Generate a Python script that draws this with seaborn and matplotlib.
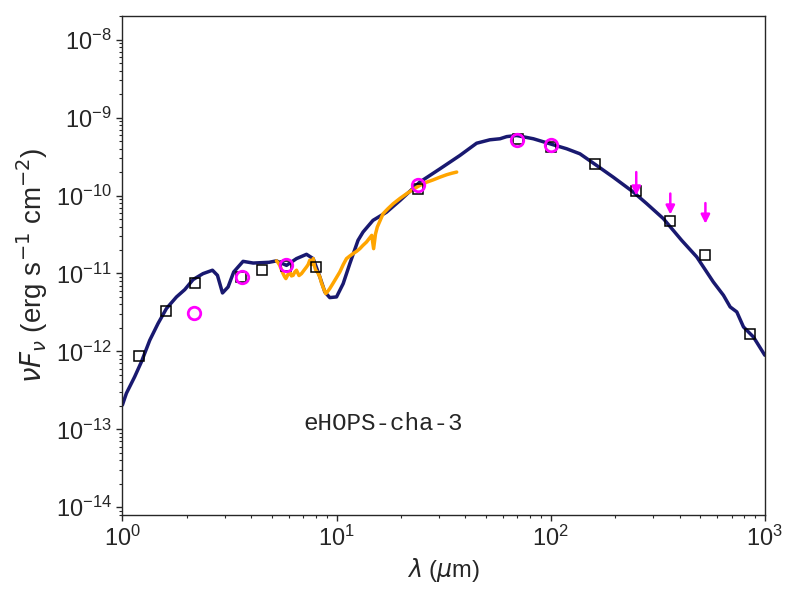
import numpy as np
import pandas as pd
import matplotlib
matplotlib.use("Agg")
import matplotlib.pyplot as plt
import seaborn as sns

# ---- datos ----
# modelo (curva azul)
lam_model = [1.0, 1.044, 1.14, 1.227, 1.342, 1.467, 1.606, 1.788, 1.955, 2.138,
             2.38, 2.634, 2.779, 2.934, 3.115, 3.31, 3.66, 4.08, 4.84, 5.24,
             5.84, 6.50, 7.24, 7.78, 8.36, 8.82, 9.30, 10.0, 10.74, 11.54,
             12.6, 13.3, 14.8, 17.1, 19.8, 24.5, 30.4, 37.7, 45.1, 52.0,
             58.0, 62.3, 69.4, 83.0, 99.3, 118.8, 137, 164, 196, 243,
             281, 336, 409, 481, 575, 641, 689, 740, 795, 885, 1000]
f_model = [2.05e-13, 2.9e-13, 4.7e-13, 7.35e-13, 1.39e-12, 2.28e-12, 3.55e-12, 4.99e-12, 6.2e-12, 8.34e-12,
           9.95e-12, 1.1e-11, 9.46e-12, 5.62e-12, 6.7e-12, 1.045e-11, 1.43e-11, 1.36e-11, 1.39e-11, 1.45e-11,
           1.27e-11, 1.55e-11, 1.76e-11, 1.55e-11, 9.0e-12, 5.78e-12, 4.9e-12, 5.0e-12, 7.4e-12, 1.34e-11,
           2.66e-11, 3.4e-11, 4.8e-11, 6.1e-11, 8.65e-11, 1.49e-10, 2.2e-10, 3.27e-10, 4.69e-10, 5.19e-10,
           5.35e-10, 5.7e-10, 5.89e-10, 5.35e-10, 4.61e-10, 3.98e-10, 3.43e-10, 2.43e-10, 1.72e-10, 1.11e-10,
           7.86e-11, 5.05e-11, 2.66e-11, 1.63e-11, 7.77e-12, 5.25e-12, 3.72e-12, 3.21e-12, 2.06e-12, 1.53e-12, 8.93e-13]

# espectro IRS (naranja)
lam_irs = [5.24, 5.33, 5.43, 5.53, 5.63, 5.72, 5.80, 5.92, 6.05, 6.16,
           6.27, 6.38, 6.50, 6.68, 6.86, 7.05, 7.24, 7.37, 7.50, 7.64,
           7.78, 7.88, 8.0, 8.18, 8.36, 8.50, 8.65, 8.78, 8.91, 9.10,
           9.30, 9.55, 9.82, 10.1, 10.36, 10.75, 11.13, 11.55, 11.96, 12.4,
           12.85, 13.3, 13.8, 14.2, 14.6, 14.9, 15.2, 15.5, 16.5, 17.4,
           18.4, 19.8, 21.2, 22.8, 24.5, 26.3, 28.3, 30.4, 32.7, 34.5, 36.4]
f_irs = [1.45e-11, 1.38e-11, 1.27e-11, 1.12e-11, 9.95e-12, 9.1e-12, 8.59e-12, 9.6e-12, 1.045e-11, 9.3e-12,
         9.46e-12, 1.04e-11, 1.1e-11, 9.4e-12, 9.95e-12, 1.1e-11, 1.21e-11, 1.3e-11, 1.48e-11, 1.3e-11,
         1.55e-11, 1.25e-11, 1.1e-11, 1.02e-11, 9.0e-12, 7.6e-12, 6.7e-12, 6.0e-12, 5.52e-12, 5.9e-12,
         6.4e-12, 7.2e-12, 8.17e-12, 9.3e-12, 1.045e-11, 1.3e-11, 1.55e-11, 1.68e-11, 1.8e-11, 1.92e-11,
         2.08e-11, 2.3e-11, 2.53e-11, 2.8e-11, 3.08e-11, 2.08e-11, 3.2e-11, 3.94e-11, 5.85e-11, 6.8e-11,
         7.86e-11, 9.2e-11, 1.05e-10, 1.2e-10, 1.35e-10, 1.48e-10, 1.59e-10, 1.72e-10, 1.85e-10, 1.93e-10, 2.0e-10]

# fotometria observada (cuadrados)
lam_phot = [1.2, 1.59, 2.18, 3.58, 4.49, 5.8, 8.0, 24.1, 70.6, 100.7, 161.6, 251, 362, 528, 854]
f_phot = [8.75e-13, 3.3e-12, 7.6e-12, 9.1e-12, 1.12e-11, 1.24e-11, 1.2e-11, 1.22e-10, 5.35e-10, 4.17e-10,
          2.55e-10, 1.13e-10, 4.75e-11, 1.74e-11, 1.69e-12]

# fotometria del ajuste (circulos magenta)
lam_fit = [2.17, 3.6, 5.8, 24.0, 70.0, 100.0]
f_fit = [3.15e-12, 9.0e-12, 1.3e-11, 1.35e-10, 5.2e-10, 4.43e-10]

# limites superiores (flechas)
lam_ul = [251, 362, 528]
f_ul_top = [2.0e-10, 1.06e-10, 8.0e-11]
f_ul = [1.0e-10, 5.7e-11, 4.35e-11]

nombre = "eHOPS-cha-3"

sns.set_style("ticks")
plt.rcParams['font.family'] = ['Liberation Sans', 'DejaVu Sans']
plt.rcParams['mathtext.fontset'] = 'dejavusans'
plt.rcParams['xtick.direction'] = 'out'
plt.rcParams['ytick.direction'] = 'out'

df_model = pd.DataFrame({"lam": lam_model, "f": f_model})
df_irs = pd.DataFrame({"lam": lam_irs, "f": f_irs})

fig, ax = plt.subplots(figsize=(8, 6), dpi=100)
fig.subplots_adjust(left=0.153, right=0.956, bottom=0.142, top=0.973)

sns.lineplot(data=df_model, x="lam", y="f", color="midnightblue", lw=2.5,
             estimator=None, sort=False, ax=ax)
sns.lineplot(data=df_irs, x="lam", y="f", color="orange", lw=2.5,
             estimator=None, sort=False, ax=ax)

ax.plot(lam_phot, f_phot, ls="none", marker="s", ms=7, mfc="none", mec="black", mew=1.1)
ax.plot(lam_fit, f_fit, ls="none", marker="o", ms=9, mfc="none", mec="magenta", mew=2)

for x, top, tip in zip(lam_ul, f_ul_top, f_ul):
    ax.annotate("", xy=(x, tip), xytext=(x, top),
                arrowprops=dict(arrowstyle="-|>", color="magenta", lw=1.8,
                                mutation_scale=13, shrinkA=0, shrinkB=0))

ax.set_xscale("log")
ax.set_yscale("log")
ax.set_xlim(1, 1000)
ax.set_ylim(8e-15, 2e-8)
for s in ax.spines.values():
    s.set_visible(True)
    s.set_linewidth(1.0)
ax.tick_params(axis="both", which="major", labelsize=17, length=4, width=1)
ax.tick_params(axis="both", which="minor", length=2.5, width=0.8)

ax.set_xlabel(r"$\lambda$ ($\mu$m)", fontsize=17)
ax.set_ylabel(r"$\nu F_\nu$ (erg s$^{-1}$ cm$^{-2}$)", fontsize=20)

ax.text(0.282, 0.17, nombre, transform=ax.transAxes, fontsize=17.5,
        family="Liberation Mono", ha="left", va="baseline")

fig.savefig("out.png", dpi=100)
